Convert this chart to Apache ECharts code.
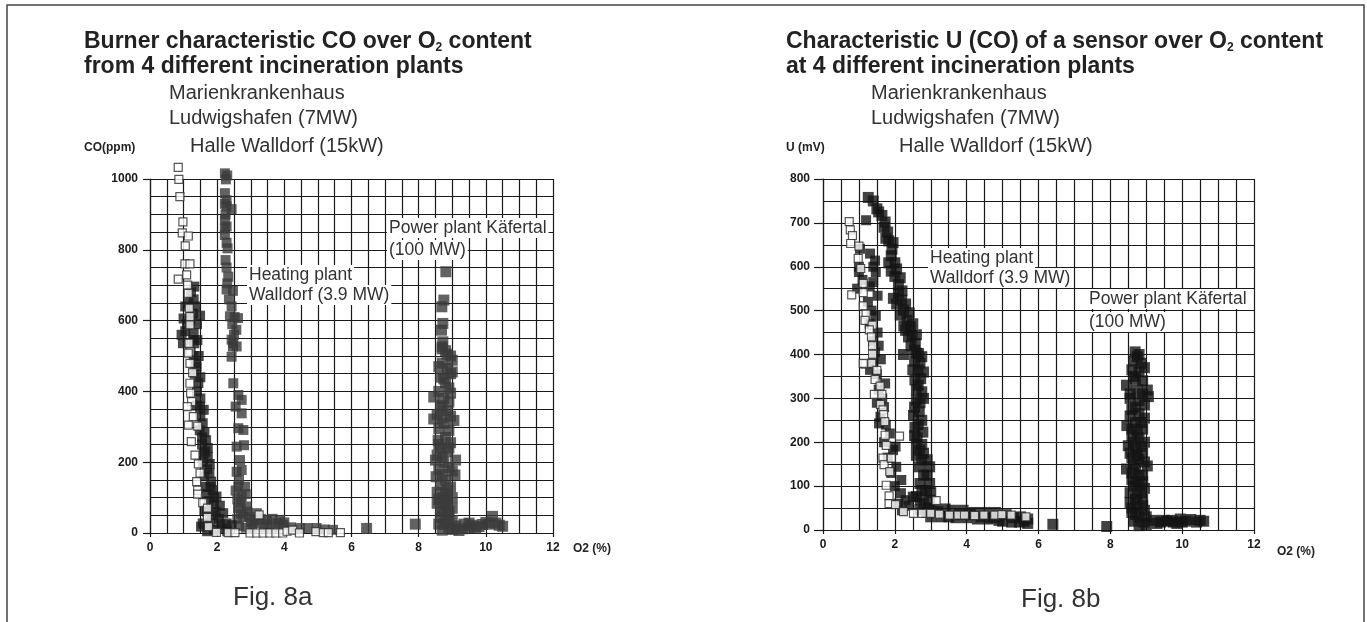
<!DOCTYPE html>
<html>
<head>
<meta charset="utf-8">
<title>Fig. 8a / Fig. 8b</title>
<script src="https://cdn.jsdelivr.net/npm/echarts/dist/echarts.min.js"></script>
<style>
  html, body { margin: 0; padding: 0; background: #fff; }
  #chart { width: 1367px; height: 622px; }
</style>
</head>
<body>
<div id="chart"></div>
<script>
// x ticks (O2 %) and y ticks for both panels
const o2Ticks = [0, 2, 4, 6, 8, 10, 12];
const coTicks = [0, 200, 400, 600, 800, 1000];
const uTicks = [0, 100, 200, 300, 400, 500, 600, 700, 800];

// Fig. 8a : CO (ppm) over O2 (%)
const leftMarien = [
  [1.32,696],[1.22,680],[1.30,660],[1.15,650],[1.05,640],[1.35,640],[1.00,606],[1.28,620],
  [1.49,614],[1.20,600],[1.10,590],[1.40,590],[1.05,570],[0.94,560],[1.30,565],[0.98,536],
  [1.29,545],[1.41,545],[1.21,512],[1.32,536],[1.30,500],[1.45,500],[1.35,480],[1.39,470],
  [1.33,450],[1.50,440],[1.44,423],[1.40,400],[1.50,380],[1.40,360],[1.49,357],[1.60,348],
  [1.50,330],[1.57,310],[1.48,290],[1.62,285],[1.55,270],[1.67,262],[1.55,250],[1.72,240],
  [1.65,230],[1.60,225],[1.72,215],[1.58,200],[1.78,195],[1.70,180],[1.77,169],[1.62,160],
  [1.82,145],[1.65,130],[1.80,130],[1.87,121],[1.70,110],[1.98,103],[1.90,100],[1.75,90],
  [2.08,77],[1.90,80],[1.62,65],[1.70,60],[1.95,60],[2.18,56],[1.85,50],[2.05,40],[1.80,30],
  [1.57,27],[2.28,27],[2.10,25],[2.43,22],[1.52,18],[1.90,9],[2.15,12],[2.30,5],[1.70,5]
];
const leftHalle = [
  [0.84,1033],[0.86,999],[0.89,950],[0.98,879],[0.96,848],[1.14,839],[1.05,811],[1.04,760],
  [1.19,760],[0.84,717],[1.09,729],[1.12,700],[1.14,677],[1.17,635],[1.19,611],[1.19,588],
  [1.16,536],[1.19,512],[1.14,508],[1.19,479],[1.27,453],[1.19,423],[1.21,395],[1.24,371],
  [1.11,357],[1.29,329],[1.14,305],[1.42,302],[1.23,258],[1.34,220],[1.44,195],[1.49,169],
  [1.39,145],[1.42,121],[1.42,110],[1.57,86],[1.71,70],[1.71,44],[1.74,18],[1.98,2],
  [2.33,1],[2.53,1],[2.98,0],[3.25,51],[3.18,0],[3.37,0],[3.57,0],[3.75,0],[3.95,0],
  [4.08,5],[4.25,8],[4.45,0],[4.94,4],[5.16,1],[5.31,1],[5.67,1]
];
const leftHeating = [
  [2.23,1016],[2.30,1010],[2.26,999],[2.23,960],[2.28,940],[2.23,930],[2.28,923],[2.43,915],
  [2.25,900],[2.23,885],[2.28,866],[2.23,860],[2.23,842],[2.28,820],[2.31,804],[2.25,771],
  [2.28,750],[2.33,724],[2.30,705],[2.28,688],[2.47,684],[2.35,660],[2.43,640],[2.38,612],
  [2.52,610],[2.62,607],[2.45,590],[2.57,574],[2.50,560],[2.43,546],[2.48,536],[2.47,527],
  [2.58,527],[2.43,498],[2.48,423],[2.63,390],[2.73,376],[2.55,357],[2.73,338],[2.63,296],
  [2.78,291],[2.58,244],[2.80,248],[2.68,206],[2.58,173],[2.73,178],[2.65,150],[2.63,131],
  [2.83,131],[2.55,120],[2.85,110],[2.73,103],[2.60,95],[2.70,85],[2.88,75],[2.62,70],
  [2.90,60],[2.70,55],[2.78,47],[2.60,40],[2.95,45],[3.18,56],[3.10,35],[3.00,30],[3.30,40],
  [3.20,28],[3.48,37],[3.50,25],[3.65,40],[3.80,28],[3.87,37],[4.00,30],[3.97,23],[4.20,16],
  [4.47,14],[4.70,14],[4.96,14],[5.20,10],[5.45,9],[2.65,20],[2.85,15],[3.05,15],[3.40,15],
  [3.70,15]
];
const leftPower = [
  [8.81,738],[8.75,658],[8.69,639],[8.72,592],[8.68,573],[8.72,540],[8.70,526],[8.70,520],
  [8.80,515],[8.85,505],[8.95,500],[9.00,488],[8.70,480],[8.60,470],[8.85,465],[9.00,455],
  [8.95,450],[8.65,440],[8.75,435],[8.80,425],[8.90,410],[8.60,400],[8.95,395],[8.45,384],
  [8.75,380],[8.90,370],[8.70,360],[8.65,355],[8.85,345],[8.55,335],[8.95,330],[8.70,325],
  [8.45,322],[9.05,318],[8.75,310],[8.60,295],[8.90,290],[8.80,270],[8.58,262],[8.95,255],
  [8.60,250],[8.65,240],[8.90,240],[8.85,230],[8.55,220],[8.70,215],[8.50,206],[9.10,206],
  [8.75,200],[8.90,185],[8.60,180],[9.00,175],[8.70,165],[9.08,164],[8.52,159],[8.80,150],
  [8.65,135],[8.95,130],[8.85,120],[8.55,115],[8.80,110],[9.00,100],[8.70,100],[8.60,95],
  [8.85,90],[8.55,84],[8.80,80],[9.00,70],[8.70,70],[8.65,60],[8.90,60],[8.90,50],[8.65,42],
  [8.80,40],[9.00,35],[8.75,25],[8.60,25],[8.90,14],[9.00,10],[8.70,8],[9.20,7],[9.10,20],
  [9.30,12],[9.35,25],[9.50,15],[9.50,28],[9.60,22],[9.70,14],[9.80,18],[9.90,24],[10.00,30],
  [10.10,25],[10.20,47],[10.30,28],[10.40,22],[10.50,19],[6.45,13],[7.90,25]
];

// Fig. 8b : U (mV) over O2 (%)
const rightMarien = [
  [1.20,706],[1.03,641],[1.31,630],[1.45,614],[1.00,600],[1.40,600],[1.00,588],[1.47,588],
  [1.10,570],[1.40,565],[0.95,550],[1.30,555],[1.52,534],[1.25,520],[1.35,500],[1.47,488],
  [1.30,470],[1.52,450],[1.40,430],[1.55,420],[1.45,405],[1.61,389],[1.40,380],[1.31,365],
  [1.50,355],[1.73,334],[1.55,320],[1.65,300],[1.50,290],[1.70,280],[1.60,258],[1.56,243],
  [1.75,240],[1.86,220],[1.70,200],[2.02,190],[1.95,182],[1.80,165],[2.04,144],[1.90,130],
  [2.18,114],[2.00,100],[2.17,84],[2.30,68],[2.10,60],[2.50,76],[2.70,68],[2.40,55],[2.20,45]
];
const rightHalle = [
  [0.73,703],[0.76,684],[0.82,671],[0.77,653],[1.00,647],[0.98,619],[1.05,596],[0.80,536],
  [1.12,562],[1.12,541],[1.12,511],[1.20,492],[1.17,478],[1.37,467],[1.29,456],[1.35,440],
  [1.38,420],[1.38,401],[1.17,378],[1.12,380],[1.36,380],[1.50,364],[1.45,343],[1.59,328],
  [1.43,309],[1.64,309],[1.60,286],[1.67,274],[1.69,263],[1.72,247],[1.73,216],[2.13,214],
  [1.76,193],[1.67,164],[1.70,149],[1.90,164],[1.86,133],[1.76,102],[1.84,78],[1.84,60],
  [2.02,58],[2.24,42],[2.52,38],[2.76,38],[3.00,38],[3.15,67],[3.24,36],[3.52,34],[3.76,34],
  [3.94,34],[4.22,33],[4.48,34],[4.78,34],[4.98,35],[5.24,34],[5.65,30]
];
const rightHeating = [
  [1.26,758],[1.40,750],[1.50,732],[1.55,725],[1.64,717],[1.73,702],[1.70,690],[1.80,679],
  [1.75,665],[1.83,659],[1.95,655],[1.92,640],[1.90,625],[1.83,609],[2.00,609],[2.05,595],
  [1.90,590],[2.00,578],[2.15,575],[2.10,559],[2.20,545],[2.10,540],[1.96,528],[2.19,524],
  [2.30,515],[2.05,515],[2.24,501],[2.40,495],[2.15,490],[2.34,478],[2.50,470],[2.25,465],
  [2.43,463],[2.30,455],[2.60,445],[2.48,444],[2.38,440],[2.57,425],[2.45,420],[2.55,410],
  [2.66,402],[2.24,400],[2.61,403],[2.75,395],[2.55,385],[2.70,380],[2.50,365],[2.65,365],
  [2.80,360],[2.72,345],[2.56,342],[2.65,330],[2.60,320],[2.75,315],[2.80,300],[2.60,296],
  [2.70,290],[2.55,280],[2.68,270],[2.52,261],[2.75,250],[2.65,240],[2.56,234],[2.78,223],
  [2.55,215],[2.62,210],[2.60,195],[2.75,195],[2.69,182],[2.80,175],[2.60,170],[2.75,160],
  [2.90,160],[2.68,144],[2.97,144],[2.80,125],[2.90,125],[2.70,106],[2.97,106],[2.85,90],
  [2.75,90],[3.00,85],[2.60,76],[2.97,68],[2.80,60],[2.95,50],[2.70,46],[3.20,42],[2.90,40],
  [3.00,30],[3.10,48],[3.30,30],[3.40,48],[3.50,30],[3.60,45],[3.70,28],[3.80,35],[3.90,45],
  [4.00,28],[4.10,35],[4.20,40],[4.30,25],[4.40,30],[4.50,40],[4.60,25],[4.70,28],[4.80,40],
  [4.90,22],[5.00,20],[5.10,35],[5.25,18],[5.30,28],[5.47,18],[5.50,30],[5.60,20],[5.70,25],
  [5.70,15],[6.40,13],[7.90,8]
];
const rightPower = [
  [8.69,406],[8.80,400],[8.75,395],[8.65,385],[8.85,380],[8.95,370],[8.60,365],[8.80,360],
  [8.65,350],[8.70,345],[8.90,340],[8.45,330],[9.03,319],[8.75,320],[8.55,310],[8.90,310],
  [9.06,304],[8.55,300],[8.80,295],[8.95,285],[8.70,280],[8.60,275],[8.80,265],[8.55,260],
  [8.95,255],[8.70,245],[8.85,245],[8.46,238],[8.90,230],[8.60,230],[8.75,225],[8.60,215],
  [8.80,210],[8.65,200],[8.95,200],[8.50,192],[8.85,190],[8.70,185],[8.55,175],[8.90,175],
  [8.75,170],[8.60,165],[8.80,160],[8.95,155],[8.65,150],[9.03,146],[8.45,139],[8.70,140],
  [8.60,130],[8.80,125],[8.90,125],[8.60,115],[8.70,110],[8.90,110],[8.80,105],[8.65,100],
  [8.95,95],[8.55,85],[8.85,85],[8.75,80],[8.70,70],[8.90,70],[8.55,63],[8.75,55],[8.90,55],
  [8.60,50],[8.95,45],[8.60,40],[8.70,35],[8.80,30],[9.00,30],[8.65,20],[8.94,18],[9.00,12],
  [8.80,10],[9.20,22],[9.30,15],[9.40,18],[9.50,22],[9.58,20],[9.70,22],[9.75,18],[9.85,15],
  [9.95,25],[10.00,18],[10.10,20],[10.24,24],[10.40,18],[10.50,22],[10.60,20]
];

const FONT = '"Liberation Sans", Arial, Helvetica, sans-serif';
const INK = '#1a1a1a';
const LINE = { color: INK, width: 1.2 };

function xAxisFor(gridIndex) {
  return {
    gridIndex: gridIndex,
    type: 'value',
    min: o2Ticks[0],
    max: o2Ticks[o2Ticks.length - 1],
    interval: o2Ticks[1] - o2Ticks[0],
    axisLine: { show: true, onZero: false, lineStyle: LINE },
    axisTick: { show: true, length: 4, lineStyle: LINE },
    axisLabel: { color: INK, fontFamily: FONT, fontSize: 12, fontWeight: 'bold', margin: 9 },
    splitLine: { show: true, lineStyle: LINE },
    minorTick: { show: false, splitNumber: 4 },
    minorSplitLine: { show: true, lineStyle: LINE },
  };
}

function yAxisFor(gridIndex, ticks, minorSplit, tickLen, margin) {
  return {
    gridIndex: gridIndex,
    type: 'value',
    min: ticks[0],
    max: ticks[ticks.length - 1],
    interval: ticks[1] - ticks[0],
    axisLine: { show: true, onZero: false, lineStyle: LINE },
    axisTick: { show: true, length: tickLen, lineStyle: LINE },
    axisLabel: {
      color: INK, fontFamily: FONT, fontSize: 12, fontWeight: 'bold', margin: margin,
      formatter: (v) => String(v),
    },
    splitLine: { show: true, lineStyle: LINE },
    minorTick: { show: false, splitNumber: minorSplit },
    minorSplitLine: { show: true, lineStyle: LINE },
  };
}

function dots(name, axis, data, color, size, open) {
  return {
    name: name,
    type: 'scatter',
    xAxisIndex: axis,
    yAxisIndex: axis,
    data: data,
    symbol: 'rect',
    symbolSize: size,
    clip: false,
    silent: true,
    itemStyle: open
      ? { color: '#fff', borderColor: '#2a2a2a', borderWidth: 1.2 }
      : { color: color },
  };
}

// plain text / boxed text helpers for graphic layer
function txt(x, y, text, font, extra) {
  return {
    type: 'text', x: x, y: y, z: 100, silent: true,
    style: Object.assign({ text: text, font: font, fill: '#222', verticalAlign: 'middle', align: 'left' }, extra || {}),
  };
}
function boxed(x, y, text) {
  return txt(x, y, text, '17.5px ' + FONT, { backgroundColor: '#fff', padding: [1, 2, 1, 2], fill: '#333' });
}

const titleFont = 'bold 23px ' + FONT;
const subFont = '20px ' + FONT;
const unitFont = 'bold 12px ' + FONT;
const capFont = '26px ' + FONT;
const subRich = { sub: { fontSize: 12, fontWeight: 'bold', fontFamily: FONT, fill: '#222', verticalAlign: 'bottom', padding: [10, 0, 0, 0] } };

const options = {
  animation: false,
  backgroundColor: '#fff',
  grid: [
    { left: 150, top: 179, width: 403, height: 354 },
    { left: 823, top: 179, width: 431, height: 351 },
  ],
  xAxis: [xAxisFor(0), xAxisFor(1)],
  yAxis: [
    yAxisFor(0, coTicks, 4, 7, 12),
    yAxisFor(1, uTicks, 2, 9, 13),
  ],
  series: [
    dots('Heating plant Walldorf (3.9 MW)', 0, leftHeating, '#3b3b3b', 10),
    dots('Power plant Käfertal (100 MW)', 0, leftPower, '#3b3b3b', 11),
    dots('Marienkrankenhaus Ludwigshafen (7MW)', 0, leftMarien, '#1c1c1c', 10),
    dots('Halle Walldorf (15kW)', 0, leftHalle, '#fff', 8, true),
    dots('Heating plant Walldorf (3.9 MW)', 1, rightHeating, '#141414', 11),
    dots('Power plant Käfertal (100 MW)', 1, rightPower, '#141414', 11),
    dots('Marienkrankenhaus Ludwigshafen (7MW)', 1, rightMarien, '#141414', 10),
    dots('Halle Walldorf (15kW)', 1, rightHalle, '#fff', 8, true),
  ],
  graphic: [
    // page frame
    { type: 'polyline', z: 90, silent: true,
      shape: { points: [[7, 622], [7, 5], [1364, 5], [1364, 622]] },
      style: { stroke: '#444', lineWidth: 1.5, fill: null } },

    // Fig. 8a texts
    txt(84, 42, 'Burner characteristic CO over O{sub|2} content', titleFont, { rich: subRich }),
    txt(84, 67, 'from 4 different incineration plants', titleFont),
    txt(169, 93, 'Marienkrankenhaus', subFont, { fill: '#333' }),
    txt(169, 118, 'Ludwigshafen (7MW)', subFont, { fill: '#333' }),
    txt(190, 146, 'Halle Walldorf (15kW)', subFont, { fill: '#333' }),
    txt(84, 148, 'CO(ppm)', unitFont),
    txt(573, 549, 'O2 (%)', unitFont),
    boxed(387, 228, 'Power plant Käfertal'),
    boxed(387, 250, '(100 MW)'),
    boxed(247, 275, 'Heating plant'),
    boxed(247, 295, 'Walldorf (3.9 MW)'),
    txt(233, 598, 'Fig. 8a', capFont, { fill: '#333' }),

    // Fig. 8b texts
    txt(786, 42, 'Characteristic U (CO) of a sensor over O{sub|2} content', titleFont, { rich: subRich }),
    txt(786, 67, 'at 4 different incineration plants', titleFont),
    txt(871, 93, 'Marienkrankenhaus', subFont, { fill: '#333' }),
    txt(871, 118, 'Ludwigshafen (7MW)', subFont, { fill: '#333' }),
    txt(899, 146, 'Halle Walldorf (15kW)', subFont, { fill: '#333' }),
    txt(786, 148, 'U (mV)', unitFont),
    txt(1277, 552, 'O2 (%)', unitFont),
    boxed(928, 258, 'Heating plant'),
    boxed(928, 278, 'Walldorf (3.9 MW)'),
    boxed(1087, 299, 'Power plant Käfertal'),
    boxed(1087, 322, '(100 MW)'),
    txt(1021, 600, 'Fig. 8b', capFont, { fill: '#333' }),
  ],
};

const chart = echarts.init(document.getElementById('chart'), null, { renderer: 'canvas' });
chart.setOption(options);

window.addEventListener('resize', () => {
  chart.resize();
});
</script>
</body>
</html>
